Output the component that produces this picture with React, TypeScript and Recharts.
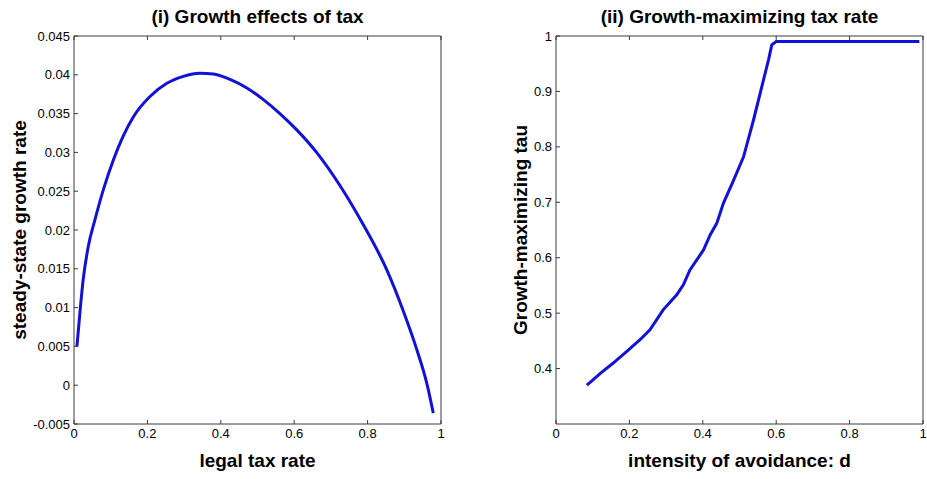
import React from 'react';
import { Line, LineChart, XAxis, YAxis } from 'recharts';

const FONT = '"Liberation Sans", Arial, Helvetica, sans-serif';
const LINE_COLOR = '#1212d6';
const AXIS_COLOR = '#3a3a3a';

// (i) growth effects of tax
const taxRate = [
  0.008, 0.016, 0.025, 0.039, 0.057, 0.08, 0.107, 0.134, 0.162, 0.207, 0.253, 0.298, 0.343, 0.38,
  0.425, 0.471, 0.516, 0.561, 0.607, 0.661, 0.725, 0.788, 0.852, 0.897, 0.934, 0.961, 0.979,
];
const growthRate = [
  0.005, 0.0093, 0.0136, 0.0179, 0.0213, 0.0252, 0.029, 0.0321, 0.0346, 0.0372, 0.0389, 0.0398,
  0.0402, 0.0401, 0.0394, 0.0383, 0.0368, 0.035, 0.0329, 0.03, 0.0257, 0.0207, 0.0149, 0.0096,
  0.0046, 0.0003, -0.0036,
];
const growthTicks = [-0.005, 0, 0.005, 0.01, 0.015, 0.02, 0.025, 0.03, 0.035, 0.04, 0.045];

// (ii) growth-maximizing tax rate
const avoidance = [
  0.084, 0.1, 0.12, 0.156, 0.193, 0.229, 0.256, 0.292, 0.329, 0.347, 0.365, 0.402, 0.42, 0.438,
  0.456, 0.484, 0.511, 0.538, 0.561, 0.579, 0.588, 0.6, 0.99,
];
const bestTau = [
  0.37, 0.379, 0.391, 0.41, 0.431, 0.452, 0.47, 0.506, 0.533, 0.551, 0.578, 0.614, 0.641, 0.662,
  0.698, 0.74, 0.782, 0.848, 0.909, 0.957, 0.984, 0.99, 0.99,
];
const tauTicks = [0.4, 0.5, 0.6, 0.7, 0.8, 0.9, 1];

const unitTicks = [0, 0.2, 0.4, 0.6, 0.8, 1];

const leftData = taxRate.map((x, i) => ({ x, y: growthRate[i] }));
const rightData = avoidance.map((x, i) => ({ x, y: bestTau[i] }));

const tickStyle = { fontSize: 13, fill: '#000', fontFamily: FONT };
const labelStyle = { fontSize: 19, fontWeight: 700, fill: '#000', fontFamily: FONT };
const noLabel = () => <g />;

interface PanelProps {
  data: { x: number; y: number }[];
  left: number;
  width: number;
  leftAxisW: number;
  rightAxisW: number;
  yDomain: [number, number];
  yTicks: number[];
  title: string;
  xLabel: string;
  yLabel: string;
  yLabelOffset: number;
  lineType: 'monotone' | 'linear';
}

function Panel({
  data,
  left,
  width,
  leftAxisW,
  rightAxisW,
  yDomain,
  yTicks,
  title,
  xLabel,
  yLabel,
  yLabelOffset,
  lineType,
}: PanelProps) {
  return (
    <div style={{ position: 'absolute', left, top: 0 }}>
      <LineChart
        width={width}
        height={479}
        data={data}
        margin={{ top: 0, right: 0, bottom: 0, left: 0 }}
      >
        <XAxis
          xAxisId="bottom"
          dataKey="x"
          type="number"
          domain={[0, 1]}
          ticks={unitTicks}
          height={55}
          stroke={AXIS_COLOR}
          tickSize={-4}
          tickMargin={9}
          tick={tickStyle}
          label={{ value: xLabel, position: 'insideBottom', offset: 12, style: labelStyle }}
        />
        <XAxis
          xAxisId="top"
          orientation="top"
          dataKey="x"
          type="number"
          domain={[0, 1]}
          ticks={unitTicks}
          height={36}
          stroke={AXIS_COLOR}
          tickSize={-4}
          tick={noLabel}
          label={{ value: title, position: 'insideBottom', offset: 13, style: labelStyle }}
        />
        <YAxis
          yAxisId="left"
          type="number"
          domain={yDomain}
          ticks={yTicks}
          width={leftAxisW}
          stroke={AXIS_COLOR}
          tickSize={-4}
          tickMargin={8}
          tick={tickStyle}
          interval={0}
          label={{
            value: yLabel,
            angle: -90,
            position: 'insideLeft',
            offset: yLabelOffset,
            style: { ...labelStyle, textAnchor: 'middle' },
          }}
        />
        <YAxis
          yAxisId="right"
          orientation="right"
          type="number"
          domain={yDomain}
          ticks={yTicks}
          width={rightAxisW}
          stroke={AXIS_COLOR}
          tickSize={-4}
          tick={noLabel}
          interval={0}
        />
        <Line
          xAxisId="bottom"
          yAxisId="left"
          type={lineType}
          dataKey="y"
          stroke={LINE_COLOR}
          strokeWidth={3}
          dot={false}
          isAnimationActive={false}
        />
      </LineChart>
    </div>
  );
}

export default function App() {
  return (
    <div
      style={{
        position: 'fixed',
        left: 0,
        top: 0,
        width: 927,
        height: 479,
        background: '#fff',
        overflow: 'hidden',
      }}
    >
      <Panel
        data={leftData}
        left={0}
        width={460}
        leftAxisW={74}
        rightAxisW={19}
        yDomain={[-0.005, 0.045]}
        yTicks={growthTicks}
        title="(i) Growth effects of tax"
        xLabel="legal tax rate"
        yLabel="steady-state growth rate"
        yLabelOffset={19}
        lineType="monotone"
      />
      <Panel
        data={rightData}
        left={460}
        width={467}
        leftAxisW={96}
        rightAxisW={4}
        yDomain={[0.3, 1]}
        yTicks={tauTicks}
        title="(ii) Growth-maximizing tax rate"
        xLabel="intensity of avoidance: d"
        yLabel="Growth-maximizing tau"
        yLabelOffset={60}
        lineType="linear"
      />
    </div>
  );
}
